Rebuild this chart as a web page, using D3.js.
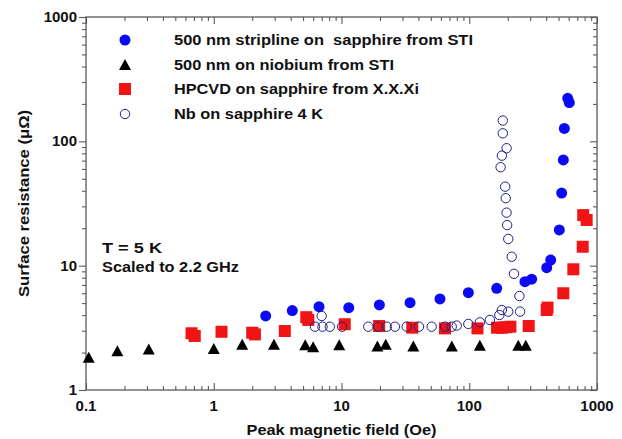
<!DOCTYPE html>
<html>
<head>
<meta charset="utf-8">
<script src="https://cdn.jsdelivr.net/npm/d3@7"></script>
<style>
  html, body { margin: 0; padding: 0; background: #fff; }
  svg { display: block; font-family: Arial, "Liberation Sans", sans-serif; font-weight: bold; }
</style>
</head>
<body>
<svg id="chart" width="622" height="439"></svg>
<script>
// 500 nm stripline on sapphire (STI)
const stiSapphireField = [2.55, 4.12, 6.67, 11.4, 19.8, 34.4, 59, 98.4, 164, 273, 308, 404, 434, 507, 529, 545, 555, 590, 607];
const stiSapphireRs    = [3.94, 4.35, 4.68, 4.59, 4.83, 5.04, 5.40, 6.06, 6.58, 7.43, 7.78, 9.64, 11.1, 19.4, 38.4, 70.8, 127, 222, 205];

// 500 nm on niobium (STI)
const stiNiobiumField = [0.105, 0.176, 0.31, 1.0, 1.67, 2.96, 5.2, 6.0, 9.6, 19.1, 22.2, 36.5, 73, 121, 242, 277];
const stiNiobiumRs    = [1.83, 2.07, 2.14, 2.16, 2.33, 2.33, 2.31, 2.23, 2.31, 2.26, 2.33, 2.26, 2.26, 2.29, 2.29, 2.29];

// HPCVD on sapphire (X.X.Xi)
const hpcvdField = [0.67, 0.71, 1.15, 2.0, 2.1, 3.6, 5.3, 5.5, 10.6, 19.7, 35.8, 64.6, 116, 165, 180, 195, 210, 292, 404, 410, 545, 653, 773, 780, 830];
const hpcvdRs    = [2.86, 2.72, 2.94, 2.89, 2.80, 2.98, 3.85, 3.66, 3.38, 3.27, 3.17, 3.13, 3.13, 3.17, 3.17, 3.20, 3.23, 3.27, 4.40, 4.60, 6.0, 9.35, 14.2, 25.5, 23.3];

// Nb on sapphire, 4 K
const nbField = [6.2, 7.0, 7.1, 8.1, 10.1, 16.2, 19.4, 22.6, 26.2, 32.4, 40.4, 50.8, 64.6, 72.9, 79.8, 98.4, 121, 145, 172, 180, 202, 250, 247, 224, 215, 202, 198, 196, 193, 191, 176, 180, 196, 183, 183];
const nbRs    = [3.23, 3.94, 3.23, 3.23, 3.23, 3.23, 3.23, 3.23, 3.23, 3.23, 3.23, 3.23, 3.23, 3.23, 3.30, 3.40, 3.50, 3.66, 4.01, 4.40, 4.27, 4.27, 5.70, 8.6, 11.8, 16.4, 21.2, 26.7, 34.9, 43.2, 61.9, 76.7, 88, 116, 147];

const xTicks = [0.1, 1, 10, 100, 1000];
const xTickLabels = ["0.1", "1", "10", "100", "1000"];
const yTicks = [1, 10, 100, 1000];
const yTickLabels = ["1", "10", "100", "1000"];

const legendLabels = [
  "500 nm stripline on  sapphire from STI",
  "500 nm on niobium from STI",
  "HPCVD on sapphire from X.X.Xi",
  "Nb on sapphire 4 K"
];
const notes = ["T = 5 K", "Scaled to 2.2 GHz"];
const xTitle = "Peak magnetic field (Oe)";
const yTitle = "Surface resistance (\u03bc\u03a9)";

const svg = d3.select("#chart");
const plotLeft = 86, plotRight = 597, plotTop = 17, plotBottom = 390;

const x = d3.scaleLog().domain([0.1, 1000]).range([plotLeft, plotRight]);
const y = d3.scaleLog().domain([1, 1000]).range([plotBottom, plotTop]);

const frameColor = "#5a5a5a";
const BLUE = "#0a0af5", RED = "#f21414", NAVY = "#202088";

// minor tick values for each decade
const minor = (lo, hi) => {
  const out = [];
  for (let d = lo; d < hi * 0.999; d *= 10) for (let k = 2; k <= 9; k++) out.push(d * k);
  return out;
};
const xMinor = minor(0.1, 1000);
const yMinor = minor(1, 1000);

// axis ticks: left outward, the other three sides inward
const addAxis = (axisFn, scale, values, size, tx, ty) =>
  svg.append("g").attr("transform", `translate(${tx},${ty})`)
    .call(axisFn(scale).tickValues(values).tickFormat("").tickSizeInner(size).tickSizeOuter(0));

addAxis(d3.axisLeft, y, yTicks, 7, plotLeft, 0);
addAxis(d3.axisLeft, y, yMinor, 4, plotLeft, 0);
addAxis(d3.axisLeft, y, yTicks, 7, plotRight, 0);
addAxis(d3.axisLeft, y, yMinor, 4, plotRight, 0);
addAxis(d3.axisTop, x, xTicks, 7, 0, plotBottom);
addAxis(d3.axisTop, x, xMinor, 4, 0, plotBottom);
addAxis(d3.axisBottom, x, xTicks, 7, 0, plotTop);
addAxis(d3.axisBottom, x, xMinor, 4, 0, plotTop);

svg.selectAll(".domain").remove();
svg.selectAll(".tick line").attr("stroke", frameColor).attr("stroke-width", 1.1);

// plot frame
svg.append("rect").attr("x", plotLeft).attr("y", plotTop)
  .attr("width", plotRight - plotLeft).attr("height", plotBottom - plotTop)
  .attr("fill", "none").attr("stroke", frameColor).attr("stroke-width", 1.3);

// tick labels
svg.append("g").selectAll("text").data(xTicks).join("text")
  .attr("x", d => x(d)).attr("y", 411)
  .attr("text-anchor", "middle").attr("font-size", 15).attr("fill", "#111")
  .text((d, i) => xTickLabels[i]);
svg.append("g").selectAll("text").data(yTicks).join("text")
  .attr("x", 77).attr("y", d => y(d) + 5)
  .attr("text-anchor", "end").attr("font-size", 15).attr("fill", "#111")
  .text((d, i) => yTickLabels[i]);

// axis titles
svg.append("text").attr("x", 341.5).attr("y", 435)
  .attr("text-anchor", "middle").attr("font-size", 14).attr("fill", "#111")
  .attr("textLength", 190).attr("lengthAdjust", "spacingAndGlyphs")
  .text(xTitle);
svg.append("text").attr("transform", "translate(29,203.5) rotate(-90)")
  .attr("text-anchor", "middle").attr("font-size", 14).attr("fill", "#111")
  .attr("textLength", 187).attr("lengthAdjust", "spacingAndGlyphs")
  .text(yTitle);

// triangle centred on its bounding box
const tri = (cx, cy, w = 12, h = 11) =>
  `M${cx},${cy - h / 2}L${cx + w / 2},${cy + h / 2}L${cx - w / 2},${cy + h / 2}Z`;

const SQ = 12;
const plot = svg.append("g");

// HPCVD squares
plot.append("g").selectAll("rect").data(d3.zip(hpcvdField, hpcvdRs)).join("rect")
  .attr("x", d => x(d[0]) - SQ / 2).attr("y", d => y(d[1]) - SQ / 2)
  .attr("width", SQ).attr("height", SQ).attr("fill", RED);

// niobium triangles
plot.append("g").selectAll("path").data(d3.zip(stiNiobiumField, stiNiobiumRs)).join("path")
  .attr("d", d => tri(x(d[0]), y(d[1]))).attr("fill", "#000");

// Nb open circles
plot.append("g").selectAll("circle").data(d3.zip(nbField, nbRs)).join("circle")
  .attr("cx", d => x(d[0])).attr("cy", d => y(d[1])).attr("r", 4.7)
  .attr("fill", "none").attr("stroke", NAVY).attr("stroke-width", 1);

// stripline filled circles
plot.append("g").selectAll("circle").data(d3.zip(stiSapphireField, stiSapphireRs)).join("circle")
  .attr("cx", d => x(d[0])).attr("cy", d => y(d[1])).attr("r", 5.5)
  .attr("fill", BLUE);

// legend
const lg = svg.append("g");
const rowY = [40, 64.5, 89, 114];
const mx = 125;
lg.append("circle").attr("cx", mx).attr("cy", rowY[0]).attr("r", 5.5).attr("fill", BLUE);
lg.append("path").attr("d", tri(mx, rowY[1])).attr("fill", "#000");
lg.append("rect").attr("x", mx - SQ / 2).attr("y", rowY[2] - SQ / 2).attr("width", SQ).attr("height", SQ).attr("fill", RED);
lg.append("circle").attr("cx", mx).attr("cy", rowY[3]).attr("r", 4.7)
  .attr("fill", "none").attr("stroke", NAVY).attr("stroke-width", 1);
const legendWidths = [299, 220, 245, 149];
lg.selectAll("text").data(legendLabels).join("text")
  .attr("x", 174).attr("y", (d, i) => rowY[i] + 5)
  .attr("font-size", 14).attr("fill", "#111")
  .attr("textLength", (d, i) => legendWidths[i]).attr("lengthAdjust", "spacingAndGlyphs")
  .style("white-space", "pre")
  .text(d => d);

// annotation
const noteWidths = [60, 137];
svg.append("g").selectAll("text").data(notes).join("text")
  .attr("x", 102).attr("y", (d, i) => 252.5 + i * 19)
  .attr("font-size", 14).attr("fill", "#111")
  .attr("textLength", (d, i) => noteWidths[i]).attr("lengthAdjust", "spacingAndGlyphs")
  .text(d => d);
</script>
</body>
</html>
